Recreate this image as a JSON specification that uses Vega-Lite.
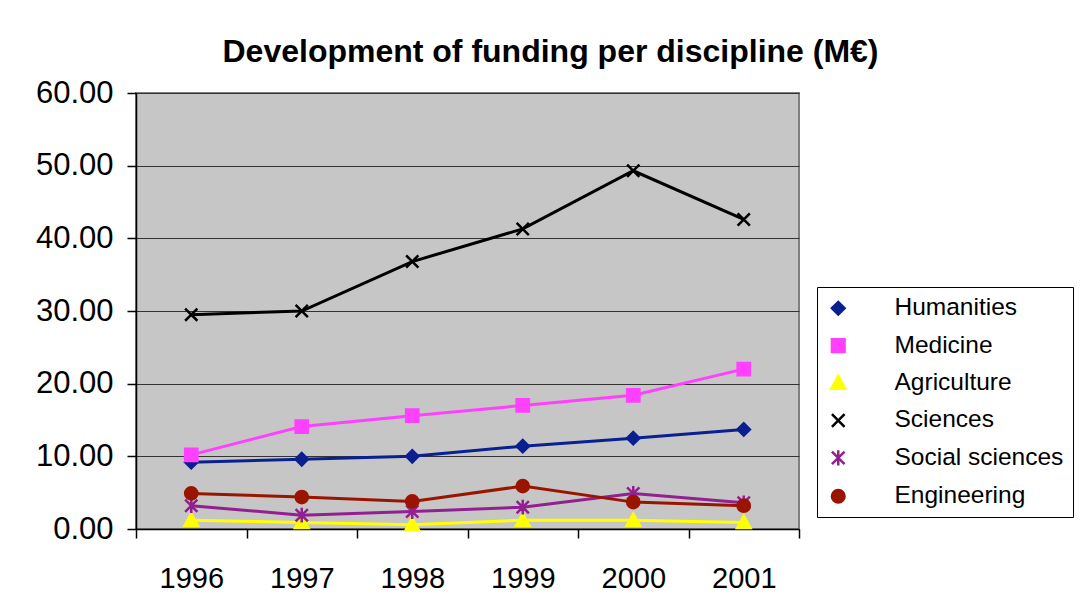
{
  "$schema": "https://vega.github.io/schema/vega-lite/v6.json",
  "autosize": {"type": "none"},
  "width": 663,
  "height": 436,
  "padding": {"left": 136, "top": 93, "right": 283, "bottom": 76},
  "background": "white",
  "title": {
    "text": "Development of funding per discipline (M€)",
    "font": "Liberation Sans",
    "fontSize": 32,
    "fontWeight": "bold",
    "color": "black",
    "anchor": "middle",
    "dx": 83,
    "offset": 8
  },
  "config": {
    "view": {"fill": "#C6C6C6", "stroke": "#808080", "strokeWidth": 2},
    "axis": {
      "labelFont": "Liberation Sans",
      "labelColor": "black",
      "domainColor": "black",
      "tickColor": "black",
      "gridColor": "#333333",
      "gridOpacity": 1,
      "domainWidth": 1.5,
      "tickWidth": 1.5,
      "tickSize": 9,
      "title": null
    }
  },
  "data": {
    "values": [
      {"year": "1996", "discipline": "Humanities", "funding": 9.2},
      {"year": "1997", "discipline": "Humanities", "funding": 9.6},
      {"year": "1998", "discipline": "Humanities", "funding": 10.0},
      {"year": "1999", "discipline": "Humanities", "funding": 11.4},
      {"year": "2000", "discipline": "Humanities", "funding": 12.5},
      {"year": "2001", "discipline": "Humanities", "funding": 13.7},
      {"year": "1996", "discipline": "Medicine", "funding": 10.2},
      {"year": "1997", "discipline": "Medicine", "funding": 14.1},
      {"year": "1998", "discipline": "Medicine", "funding": 15.6},
      {"year": "1999", "discipline": "Medicine", "funding": 17.0},
      {"year": "2000", "discipline": "Medicine", "funding": 18.4},
      {"year": "2001", "discipline": "Medicine", "funding": 22.0},
      {"year": "1996", "discipline": "Agriculture", "funding": 1.2},
      {"year": "1997", "discipline": "Agriculture", "funding": 0.9},
      {"year": "1998", "discipline": "Agriculture", "funding": 0.6},
      {"year": "1999", "discipline": "Agriculture", "funding": 1.2},
      {"year": "2000", "discipline": "Agriculture", "funding": 1.2},
      {"year": "2001", "discipline": "Agriculture", "funding": 0.9},
      {"year": "1996", "discipline": "Sciences", "funding": 29.5},
      {"year": "1997", "discipline": "Sciences", "funding": 30.0},
      {"year": "1998", "discipline": "Sciences", "funding": 36.8},
      {"year": "1999", "discipline": "Sciences", "funding": 41.3},
      {"year": "2000", "discipline": "Sciences", "funding": 49.3},
      {"year": "2001", "discipline": "Sciences", "funding": 42.6},
      {"year": "1996", "discipline": "Social sciences", "funding": 3.2},
      {"year": "1997", "discipline": "Social sciences", "funding": 1.9},
      {"year": "1998", "discipline": "Social sciences", "funding": 2.4},
      {"year": "1999", "discipline": "Social sciences", "funding": 3.0},
      {"year": "2000", "discipline": "Social sciences", "funding": 4.9},
      {"year": "2001", "discipline": "Social sciences", "funding": 3.6},
      {"year": "1996", "discipline": "Engineering", "funding": 4.9},
      {"year": "1997", "discipline": "Engineering", "funding": 4.4},
      {"year": "1998", "discipline": "Engineering", "funding": 3.8},
      {"year": "1999", "discipline": "Engineering", "funding": 5.9},
      {"year": "2000", "discipline": "Engineering", "funding": 3.7},
      {"year": "2001", "discipline": "Engineering", "funding": 3.2}
    ]
  },
  "encoding": {
    "x": {
      "field": "year",
      "type": "ordinal",
      "scale": {"type": "band", "paddingInner": 0, "paddingOuter": 0},
      "axis": {
        "labelAngle": 0,
        "labelFontSize": 29,
        "labelPadding": 26,
        "tickBand": "extent",
        "grid": false
      }
    },
    "y": {
      "field": "funding",
      "type": "quantitative",
      "scale": {"domain": [0, 60], "nice": false},
      "axis": {
        "values": [0, 10, 20, 30, 40, 50, 60],
        "format": ".2f",
        "labelFontSize": 31,
        "labelPadding": 14,
        "grid": true
      }
    }
  },
  "layer": [
    {
      "mark": {"type": "line", "strokeWidth": 3},
      "encoding": {
        "color": {
          "field": "discipline",
          "type": "nominal",
          "scale": {
            "domain": ["Humanities", "Medicine", "Agriculture", "Sciences", "Social sciences", "Engineering"],
            "range": ["#0A2090", "#FF40FF", "#FFFF00", "#000000", "#922090", "#9A1500"]
          },
          "legend": {
            "title": null,
            "orient": "none",
            "legendX": 681,
            "legendY": 194,
            "strokeColor": "black",
            "fillColor": "white",
            "padding": 9,
            "labelFont": "Liberation Sans",
            "labelFontSize": 24.5,
            "labelColor": "black",
            "labelOffset": 44,
            "labelLimit": 400,
            "rowPadding": 12.4,
            "symbolSize": 160,
            "symbolStrokeWidth": 2.5
          }
        }
      }
    },
    {
      "mark": {"type": "point", "filled": true, "size": 150, "strokeWidth": 2.5, "opacity": 1},
      "encoding": {
        "color": {"field": "discipline", "type": "nominal", "legend": null},
        "stroke": {
          "field": "discipline",
          "type": "nominal",
          "legend": null,
          "scale": {
            "domain": ["Humanities", "Medicine", "Agriculture", "Sciences", "Social sciences", "Engineering"],
            "range": ["#0A2090", "#FF40FF", "#FFFF00", "#000000", "#922090", "#9A1500"]
          }
        },
        "shape": {
          "field": "discipline",
          "type": "nominal",
          "legend": null,
          "scale": {
            "domain": ["Humanities", "Medicine", "Agriculture", "Sciences", "Social sciences", "Engineering"],
            "range": ["diamond", "square", "M0,-1.1L1.1,0.9L-1.1,0.9Z", "M-1,-1L1,1M-1,1L1,-1", "M-1,-1L1,1M-1,1L1,-1M0,-1.2L0,1.2", "circle"]
          }
        }
      }
    }
  ]
}
